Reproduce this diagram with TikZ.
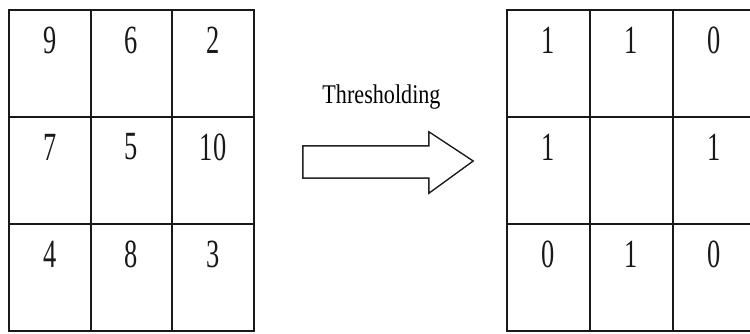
\documentclass[tikz,border=0pt]{standalone}
\usepackage{fontspec}
\setmainfont{Liberation Serif}
\newfontfamily\digitfont[FakeStretch=0.66]{Liberation Serif}
\newfontfamily\labelfont[FakeStretch=0.82]{Liberation Serif}
\begin{document}
\begin{tikzpicture}[x=1pt,y=-1pt]
\tikzset{
  lcell/.style={draw=black!90, line width=1.9pt, minimum width=81.67pt, minimum height=107pt, inner sep=0pt, outer sep=0pt},
  rcell/.style={draw=black!90, line width=1.9pt, minimum width=83pt, minimum height=107pt, inner sep=0pt, outer sep=0pt},
  num/.style={font=\digitfont\fontsize{40}{40}\selectfont, text=black!90, inner sep=0pt},
  lbl/.style={font=\labelfont\fontsize{27}{27}\selectfont, text=black, inner sep=0pt, anchor=base}
}
\useasboundingbox[fill=white] (0,0) rectangle (750,333);
% left grid
\foreach \r/\cy in {1/63.5,2/170.5,3/277.5}{
  \foreach \c/\cx in {1/49.83,2/131.5,3/213.17}{
    \node[lcell] (L\r\c) at (\cx,\cy) {};
  }
}
% right grid
\foreach \r/\cy in {1/63.5,2/170.5,3/277.5}{
  \foreach \c/\cx in {1/548.5,2/631.5,3/714.5}{
    \node[rcell] (R\r\c) at (\cx,\cy) {};
  }
}
% left values
\foreach \r/\c/\v in {1/1/9,1/2/6,1/3/2,2/1/7,2/2/5,2/3/10,3/1/4,3/2/8,3/3/3}{
  \node[num] (LV\r\c) at ([yshift=-30pt]L\r\c.north) {\v};
}
% right values
\foreach \r/\c/\v in {1/1/1,1/2/1,1/3/0,2/1/1,2/3/1,3/1/0,3/2/1,3/3/0}{
  \node[num] (RV\r\c) at ([yshift=-30pt]R\r\c.north) {\v};
}
% label
\node[lbl] (thr) at (381.5,103) {Thresholding};
% block arrow with shadow
\coordinate (a1) at (303,146);
\coordinate (a2) at (429,146);
\coordinate (a3) at (429,132);
\coordinate (a4) at (473,161);
\coordinate (a5) at (429,193);
\coordinate (a6) at (429,178);
\coordinate (a7) at (303,178);
\draw[black!75, line width=1.6pt, shift={(1.3,1.3)}] (a1) -- (a2) -- (a3) -- (a4) -- (a5) -- (a6) -- (a7) -- cycle;
\draw[black!90, fill=white, line width=1.1pt, line join=miter] (a1) -- (a2) -- (a3) -- (a4) -- (a5) -- (a6) -- (a7) -- cycle;
\end{tikzpicture}
\end{document}
